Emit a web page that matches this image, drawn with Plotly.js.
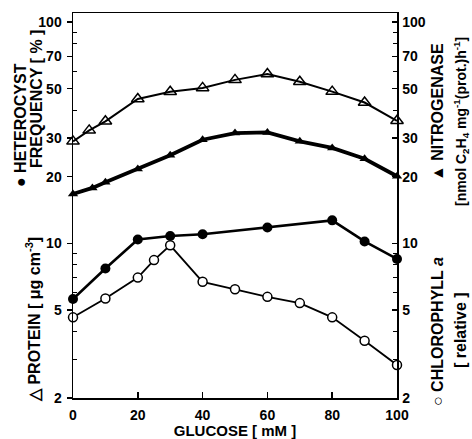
<!DOCTYPE html>
<html><head><meta charset="utf-8">
<script src="https://cdn.plot.ly/plotly-3.0.1.min.js"></script>
<style>body{margin:0;background:#fff}</style>
</head><body><div id="chart" style="width:472px;height:439px"></div>
<script>
// Data (glucose in mM)
const glucoseProtein = [0, 5, 10, 20, 30, 40, 50, 60, 70, 80, 90, 100];
const protein        = [28.9, 32.4, 35.6, 44.9, 48.4, 50.4, 54.8, 58.3, 53.7, 48.5, 43.3, 35.8];

const glucoseNitro   = [0, 6, 10, 20, 30, 40, 50, 60, 70, 80, 90, 100];
const nitrogenase    = [16.7, 17.8, 18.9, 21.7, 25.0, 29.4, 31.5, 31.7, 28.9, 27.0, 24.1, 20.1];

const glucoseHet     = [0, 10, 20, 30, 40, 60, 80, 90, 100];
const heterocyst     = [5.6, 7.7, 10.4, 10.8, 11.0, 11.8, 12.7, 10.2, 8.5];

const glucoseChl     = [0, 10, 20, 25, 30, 40, 50, 60, 70, 80, 90, 100];
const chlorophyll    = [4.63, 5.63, 7.0, 8.4, 9.8, 6.7, 6.2, 5.73, 5.37, 4.63, 3.63, 2.82];

const yTickVals  = [2, 5, 10, 20, 30, 50, 70, 100];
const yTickText  = ['2', '5', '10', '20', '30', '50', '70', '100'];
const yMinorVals = [3, 4, 6, 7, 8, 9, 40, 60, 80, 90];
const xTickVals  = [0, 20, 40, 60, 80, 100];
const xTickText  = ['0', '20', '40', '60', '80', '100'];

const FONT = 'Liberation Sans, Arial, sans-serif';
const yRange = [Math.log10(2), 2.041];
const bold = a => a.map(s => '<b>' + s + '</b>');

const traces = [
  {x: glucoseProtein, y: protein, type: 'scatter', mode: 'lines+markers', yaxis: 'y',
   line: {color: '#000', width: 2},
   marker: {symbol: 'triangle-up-open', size: 11, color: '#000', line: {width: 1.5}},
   cliponaxis: false},
  {x: glucoseNitro, y: nitrogenase, type: 'scatter', mode: 'lines+markers', yaxis: 'y2',
   line: {color: '#000', width: 3.8},
   marker: {symbol: 'triangle-up', size: 9, color: '#000'},
   cliponaxis: false},
  {x: glucoseHet, y: heterocyst, type: 'scatter', mode: 'lines+markers', yaxis: 'y',
   line: {color: '#000', width: 2.6},
   marker: {symbol: 'circle', size: 10, color: '#000'},
   cliponaxis: false},
  {x: glucoseChl, y: chlorophyll, type: 'scatter', mode: 'lines+markers', yaxis: 'y2',
   line: {color: '#000', width: 1.8},
   marker: {symbol: 'circle', size: 9, color: '#fff', line: {color: '#000', width: 1.5}},
   cliponaxis: false}
];

const tickFont = {family: FONT, size: 14, color: '#000'};
const labFont = {family: FONT, size: 15, color: '#000'};

function ann(text, x, y, size) {
  return {text: '<b>' + text + '</b>', xref: 'paper', yref: 'paper', x: x, y: y,
          xanchor: 'center', yanchor: 'middle', showarrow: false, textangle: -90,
          font: {family: FONT, size: size || 15, color: '#000'}};
}
// paper coords from pixel positions in the 472x439 frame
function px(p) { return (p - 73) / 324; }
function py(p) { return (398 - p) / 385; }

const layout = {
  width: 472, height: 439,
  margin: {l: 73, r: 75, t: 13, b: 41},
  paper_bgcolor: '#fff', plot_bgcolor: '#fff',
  showlegend: false,
  xaxis: {range: [0, 100], tickvals: xTickVals, ticktext: bold(xTickText), ticks: 'inside', ticklen: 6, tickwidth: 1.5,
          tickcolor: '#000', showline: true, linecolor: '#000', linewidth: 1.5, mirror: true,
          showgrid: false, zeroline: false, tickfont: tickFont, ticklabelstandoff: 4,
          title: {text: '<b>GLUCOSE [ mM ]</b>', font: labFont, standoff: 1}},
  yaxis: {type: 'log', range: yRange, tickvals: yTickVals, ticktext: bold(yTickText),
          ticks: 'outside', ticklen: 5, tickwidth: 1.5, tickcolor: '#000',
          showline: true, linecolor: '#000', linewidth: 1.5, showgrid: false, zeroline: false,
          tickfont: tickFont, ticklabelstandoff: 2,
          minor: {tickvals: yMinorVals, ticks: 'inside', ticklen: 4, tickcolor: '#000', tickwidth: 1}},
  yaxis2: {type: 'log', range: yRange, overlaying: 'y', side: 'right',
          tickvals: yTickVals, ticktext: bold(yTickText),
          ticks: 'inside', ticklen: 5, tickwidth: 1.5, tickcolor: '#000',
          showline: true, linecolor: '#000', linewidth: 1.5, showgrid: false, zeroline: false,
          tickfont: tickFont, ticklabelstandoff: 1,
          minor: {tickvals: yMinorVals, ticks: 'inside', ticklen: 4, tickcolor: '#000', tickwidth: 1}},
  annotations: [
    ann('● HETEROCYST', px(20), py(125), 16),
    ann('FREQUENCY [ % ]', px(37), py(99), 16),
    ann('△ PROTEIN [ μg cm<sup>-3</sup>]', px(33), py(320), 16),
    ann('▲ NITROGENASE', px(438), py(112), 16),
    ann('[nmol C<sub>2</sub>H<sub>4</sub> mg<sup>-1</sup>(prot.)h<sup>-1</sup>]', px(461), py(122), 14),
    ann('○ CHLOROPHYLL <i>a</i>', px(437), py(332), 16),
    ann('[ relative ]', px(460), py(330), 16)
  ]
};

Plotly.newPlot('chart', traces, layout, {displayModeBar: false, staticPlot: true});
</script></body></html>
